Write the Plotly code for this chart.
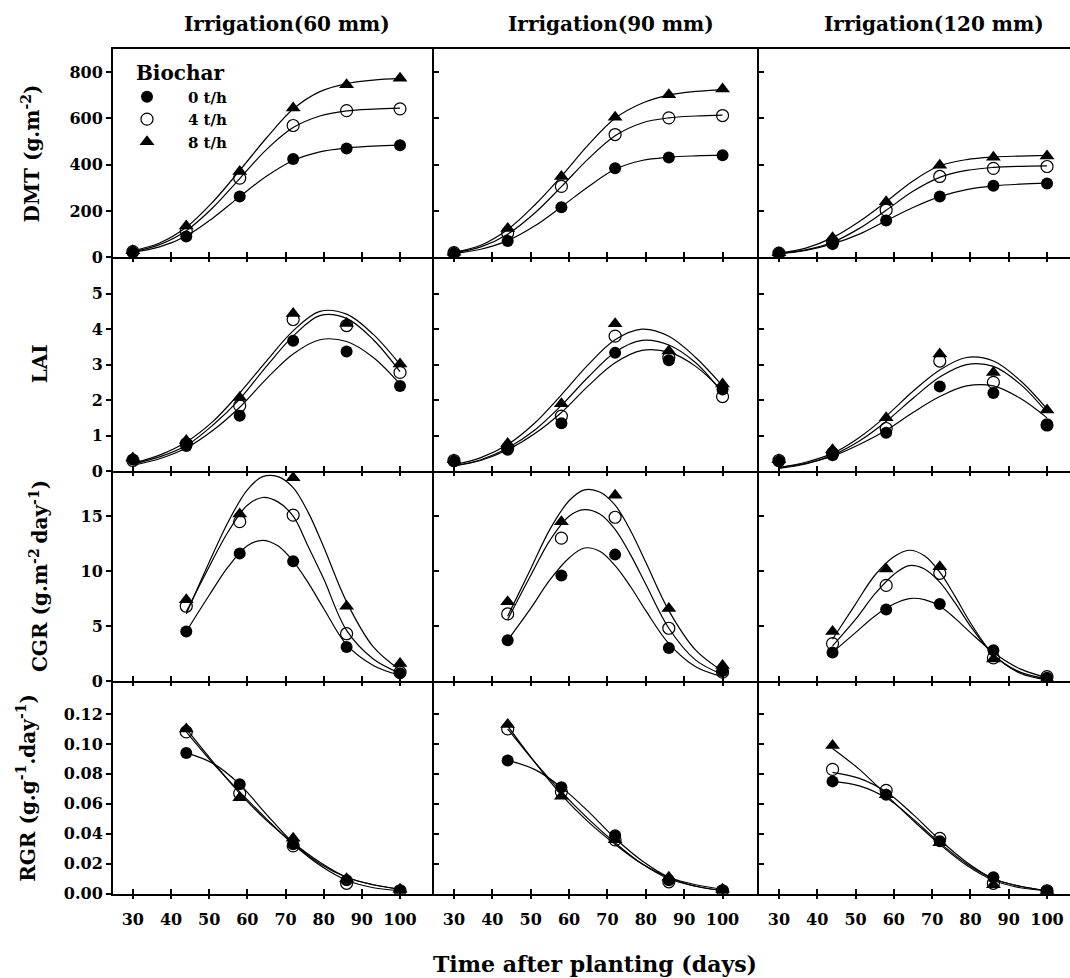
import plotly.graph_objects as go

W, H = 1070, 978

# ---------------- data ----------------
biochar = ["0 t/h", "4 t/h", "8 t/h"]
irrigation = ["Irrigation(60 mm)", "Irrigation(90 mm)", "Irrigation(120 mm)"]
x_ticks = [30, 40, 50, 60, 70, 80, 90, 100]

days = [30, 44, 58, 72, 86, 100]
rate_days = [44, 58, 72, 86, 100]
growth_curve_days = [30, 37, 44, 51, 58, 65, 72, 79, 86, 93, 100]
cgr_curve_days = [44, 50, 55, 60, 64, 68, 72, 76, 80, 86, 93, 100]
rgr_curve_days = [44, 51, 58, 65, 72, 79, 86, 93, 100]

# DMT (g m-2) observed, [0 t/h, 4 t/h, 8 t/h]
dmt_60 = [[22, 90, 263, 424, 470, 484], [25, 114, 342, 569, 633, 641], [28, 135, 370, 645, 745, 773]]
dmt_90 = [[17, 71, 216, 384, 431, 441], [20, 105, 306, 530, 602, 612], [22, 125, 349, 605, 702, 726]]
dmt_120 = [[17, 57, 159, 263, 309, 319], [18, 65, 204, 349, 384, 392], [20, 85, 240, 397, 432, 437]]
# DMT fitted curves
dmt_fit_60 = [[22, 45, 92, 170, 262, 350, 418, 455, 472, 480, 484],
              [25, 55, 115, 215, 340, 465, 560, 610, 632, 640, 644],
              [28, 62, 130, 240, 375, 515, 640, 715, 750, 765, 772]]
dmt_fit_90 = [[17, 35, 72, 135, 218, 305, 380, 418, 432, 438, 441],
              [20, 45, 100, 190, 305, 425, 525, 580, 602, 610, 614],
              [22, 52, 120, 225, 350, 485, 600, 665, 700, 716, 724]]
dmt_fit_120 = [[15, 30, 58, 100, 158, 215, 262, 292, 308, 316, 320],
               [16, 32, 65, 125, 203, 285, 345, 375, 388, 393, 395],
               [18, 40, 85, 155, 240, 330, 395, 422, 433, 437, 440]]

# LAI observed
lai_60 = [[0.33, 0.71, 1.56, 3.67, 3.37, 2.40], [0.30, 0.77, 1.84, 4.27, 4.10, 2.78], [0.37, 0.86, 2.07, 4.44, 4.16, 3.02]]
lai_90 = [[0.28, 0.60, 1.35, 3.33, 3.12, 2.30], [0.30, 0.65, 1.55, 3.80, 3.20, 2.10], [0.32, 0.78, 1.90, 4.15, 3.38, 2.45]]
lai_120 = [[0.28, 0.45, 1.08, 2.38, 2.20, 1.30], [0.30, 0.50, 1.20, 3.10, 2.50, 1.30], [0.32, 0.60, 1.50, 3.30, 2.78, 1.72]]
# LAI fitted curves
lai_fit_60 = [[0.17, 0.35, 0.65, 1.15, 1.80, 2.60, 3.30, 3.70, 3.65, 3.20, 2.45],
              [0.20, 0.40, 0.72, 1.30, 2.03, 2.95, 3.80, 4.38, 4.30, 3.70, 2.80],
              [0.22, 0.45, 0.82, 1.40, 2.20, 3.10, 3.95, 4.50, 4.42, 3.85, 3.00]]
lai_fit_90 = [[0.15, 0.30, 0.60, 1.05, 1.65, 2.40, 3.05, 3.40, 3.35, 2.95, 2.25],
              [0.15, 0.32, 0.65, 1.15, 1.85, 2.65, 3.35, 3.68, 3.55, 3.05, 2.20],
              [0.18, 0.38, 0.75, 1.35, 2.15, 3.00, 3.70, 4.00, 3.80, 3.20, 2.40]]
lai_fit_120 = [[0.10, 0.22, 0.42, 0.75, 1.15, 1.65, 2.10, 2.40, 2.40, 2.05, 1.50],
               [0.08, 0.20, 0.45, 0.85, 1.40, 2.05, 2.65, 3.00, 2.95, 2.45, 1.65],
               [0.10, 0.25, 0.50, 0.95, 1.55, 2.25, 2.85, 3.20, 3.10, 2.55, 1.75]]

# CGR observed
cgr_60 = [[4.5, 11.6, 10.9, 3.1, 0.7], [6.8, 14.5, 15.1, 4.3, 0.8], [7.4, 15.2, 18.5, 6.8, 1.6]]
cgr_90 = [[3.7, 9.6, 11.5, 3.0, 0.9], [6.1, 13.0, 14.9, 4.8, 0.8], [7.2, 14.5, 16.9, 6.6, 1.4]]
cgr_120 = [[2.6, 6.5, 7.0, 2.8, 0.3], [3.4, 8.7, 9.8, 2.1, 0.4], [4.5, 10.2, 10.4, 2.0, 0.2]]
# CGR fitted curves
cgr_fit_60 = [[4.5, 7.8, 10.4, 12.3, 12.8, 12.3, 10.9, 8.9, 6.6, 3.3, 1.4, 0.5],
              [6.3, 10.4, 13.6, 16.0, 16.7, 16.3, 15.0, 12.2, 9.3, 4.6, 2.0, 0.7],
              [6.1, 10.8, 14.5, 17.4, 18.6, 18.6, 17.6, 15.3, 12.2, 7.2, 3.1, 1.0]]
cgr_fit_90 = [[3.7, 6.6, 9.2, 11.2, 12.1, 11.8, 10.5, 8.6, 6.4, 3.4, 1.3, 0.4],
              [5.6, 9.6, 12.8, 15.0, 15.6, 15.2, 13.8, 11.5, 8.8, 4.8, 1.9, 0.6],
              [5.9, 10.2, 13.8, 16.4, 17.4, 17.2, 16.0, 13.7, 10.8, 6.4, 2.8, 0.9]]
cgr_fit_120 = [[2.6, 4.4, 5.9, 7.0, 7.5, 7.4, 6.8, 5.7, 4.4, 2.6, 1.1, 0.3],
               [3.2, 5.6, 7.9, 9.7, 10.5, 10.2, 9.0, 7.1, 5.0, 2.4, 0.8, 0.2],
               [3.8, 7.0, 9.6, 11.3, 11.9, 11.4, 9.9, 7.7, 5.3, 2.4, 0.7, 0.1]]

# RGR observed
rgr_60 = [[0.094, 0.073, 0.033, 0.009, 0.002], [0.108, 0.067, 0.032, 0.007, 0.002], [0.110, 0.064, 0.037, 0.010, 0.003]]
rgr_90 = [[0.089, 0.071, 0.039, 0.009, 0.002], [0.110, 0.068, 0.036, 0.008, 0.002], [0.113, 0.065, 0.036, 0.011, 0.003]]
rgr_120 = [[0.075, 0.066, 0.035, 0.011, 0.002], [0.083, 0.069, 0.037, 0.007, 0.002], [0.099, 0.066, 0.034, 0.006, 0.002]]
# RGR fitted curves
rgr_fit_60 = [[0.094, 0.087, 0.073, 0.053, 0.034, 0.020, 0.011, 0.006, 0.003],
              [0.108, 0.087, 0.068, 0.050, 0.033, 0.019, 0.009, 0.004, 0.002],
              [0.110, 0.088, 0.067, 0.049, 0.034, 0.021, 0.011, 0.006, 0.003]]
rgr_fit_90 = [[0.089, 0.083, 0.071, 0.055, 0.037, 0.022, 0.011, 0.005, 0.002],
              [0.110, 0.088, 0.068, 0.050, 0.034, 0.020, 0.010, 0.005, 0.002],
              [0.112, 0.088, 0.066, 0.048, 0.033, 0.020, 0.011, 0.006, 0.003]]
rgr_fit_120 = [[0.075, 0.072, 0.064, 0.050, 0.034, 0.020, 0.010, 0.005, 0.002],
               [0.081, 0.077, 0.068, 0.053, 0.036, 0.021, 0.010, 0.005, 0.002],
               [0.097, 0.083, 0.066, 0.049, 0.033, 0.019, 0.009, 0.004, 0.002]]

y_titles = ["DMT (g.m<sup>-2</sup>)", "LAI", "CGR (g.m<sup>-2 </sup>day<sup>-1</sup>)",
            "RGR (g.g<sup>-1</sup>.day<sup>-1</sup>)"]
y_tickvals = [[0, 200, 400, 600, 800], [0, 1, 2, 3, 4, 5], [0, 5, 10, 15],
              [0, 0.02, 0.04, 0.06, 0.08, 0.10, 0.12]]
y_tickformat = ["d", "d", "d", ".2f"]
y_ranges = [[0, 897], [0, 6.02], [0, 19.1], [0, 0.142]]

# ---------------- layout geometry (pixels) ----------------
col_px = [(113, 434), (434, 759), (759, 1070)]
row_px = [(50, 260), (260, 476), (476, 688), (688, 903)]
x_ranges = [[24.8, 108.9], [24.8, 109.5], [24.8, 106.0]]


def fx(p):
    return p / W


def fy(p):
    return 1 - p / H


observed = [[dmt_60, dmt_90, dmt_120], [lai_60, lai_90, lai_120],
            [cgr_60, cgr_90, cgr_120], [rgr_60, rgr_90, rgr_120]]
fitted = [[dmt_fit_60, dmt_fit_90, dmt_fit_120], [lai_fit_60, lai_fit_90, lai_fit_120],
          [cgr_fit_60, cgr_fit_90, cgr_fit_120], [rgr_fit_60, rgr_fit_90, rgr_fit_120]]
obs_days = [days, days, rate_days, rate_days]
fit_days = [growth_curve_days, growth_curve_days, cgr_curve_days, rgr_curve_days]

NB = "\u00a0"
legend_names = [NB * 4 + b for b in biochar]

markers = [dict(symbol="circle", size=12, color="black"),
           dict(symbol="circle-open", size=12, color="black", line=dict(width=1.2, color="black")),
           dict(symbol="triangle-up", size=13, color="black")]

FONT = "DejaVu Serif"
tick_font = dict(family=FONT, size=16, color="black", weight="bold")

fig = go.Figure()
layout = dict(width=W, height=H, margin=dict(l=0, r=0, t=0, b=0),
              paper_bgcolor="white", plot_bgcolor="white", autosize=False)

for r in range(4):
    for c in range(3):
        k = r * 3 + c + 1
        xs = "x" if k == 1 else f"x{k}"
        ys = "y" if k == 1 else f"y{k}"
        # fitted curves
        for b in range(3):
            fig.add_trace(go.Scatter(x=fit_days[r], y=fitted[r][c][b], mode="lines",
                                     line=dict(color="black", width=1.2, shape="spline", smoothing=1.0),
                                     xaxis=xs, yaxis=ys, showlegend=False, hoverinfo="skip"))
        # observed points
        for b in range(3):
            fig.add_trace(go.Scatter(x=obs_days[r], y=observed[r][c][b], mode="markers",
                                     marker=markers[b], name=legend_names[b],
                                     xaxis=xs, yaxis=ys, showlegend=(k == 1)))
        xa = dict(domain=[fx(col_px[c][0]), fx(col_px[c][1])], range=x_ranges[c],
                  anchor=ys, showgrid=False, zeroline=False, showline=True,
                  linecolor="black", linewidth=2, ticks="inside", ticklen=5,
                  tickwidth=2, tickcolor="black", tickvals=x_ticks,
                  mirror=(r == 0),
                  showticklabels=(r == 3), tickfont=tick_font, ticklabelstandoff=10)
        ya = dict(domain=[fy(row_px[r][1]), fy(row_px[r][0])], range=y_ranges[r],
                  anchor=xs, showgrid=False, zeroline=False, showline=True,
                  linecolor="black", linewidth=2,
                  ticks="outside" if c == 0 else "inside", ticklen=5, tickwidth=1.5,
                  tickcolor="black", tickvals=y_tickvals[r], tickformat=y_tickformat[r],
                  mirror=False, showticklabels=(c == 0), tickfont=tick_font)
        layout["xaxis" if k == 1 else f"xaxis{k}"] = xa
        layout["yaxis" if k == 1 else f"yaxis{k}"] = ya

# overlay axes: the outward half of the crossing x ticks under every panel
for k in range(1, 13):
    ok = 12 + k
    c = (k - 1) % 3
    bx = "x" if k == 1 else f"x{k}"
    by = "y" if k == 1 else f"y{k}"
    layout[f"xaxis{ok}"] = dict(overlaying=bx, anchor=by, range=x_ranges[c],
                                showgrid=False, zeroline=False, showline=False,
                                ticks="outside", ticklen=4, tickwidth=2, tickcolor="black",
                                tickvals=x_ticks, showticklabels=False, side="bottom")
    fig.add_trace(go.Scatter(x=[None], y=[None], xaxis=f"x{ok}", yaxis=by,
                             showlegend=False, hoverinfo="skip"))

annotations = []
col_title_x = [287, 611, 934]
for c in range(3):
    annotations.append(dict(text=irrigation[c], x=fx(col_title_x[c]), y=fy(24), xref="paper", yref="paper",
                            showarrow=False, xanchor="center", yanchor="middle",
                            font=dict(family=FONT, size=20, color="black", weight="bold")))
annotations.append(dict(text="Time after planting (days)", x=fx(595), y=fy(974), xref="paper", yref="paper",
                        showarrow=False, xanchor="center", yanchor="middle",
                        font=dict(family=FONT, size=22, color="black", weight="bold")))
y_title_pos = [(31, 155), (40, 368), (39, 582), (26, 796)]
for r in range(4):
    annotations.append(dict(text=y_titles[r], x=fx(y_title_pos[r][0]), y=fy(y_title_pos[r][1]),
                            xref="paper", yref="paper", showarrow=False, textangle=-90,
                            xanchor="center", yanchor="middle",
                            font=dict(family=FONT, size=20, color="black", weight="bold")))
layout["annotations"] = annotations

layout["legend"] = dict(x=fx(127), y=fy(55), xanchor="left", yanchor="top",
                        bgcolor="rgba(0,0,0,0)", borderwidth=0,
                        title=dict(text=NB + "Biochar",
                                   font=dict(family=FONT, size=20, color="black", weight="bold")),
                        font=dict(family=FONT, size=15, color="black", weight="bold"),
                        tracegroupgap=0)

fig.update_layout(**layout)
fig.write_html("out.html", config={"displayModeBar": False},
               post_script="document.body.style.margin='0';document.body.style.padding='0';")
